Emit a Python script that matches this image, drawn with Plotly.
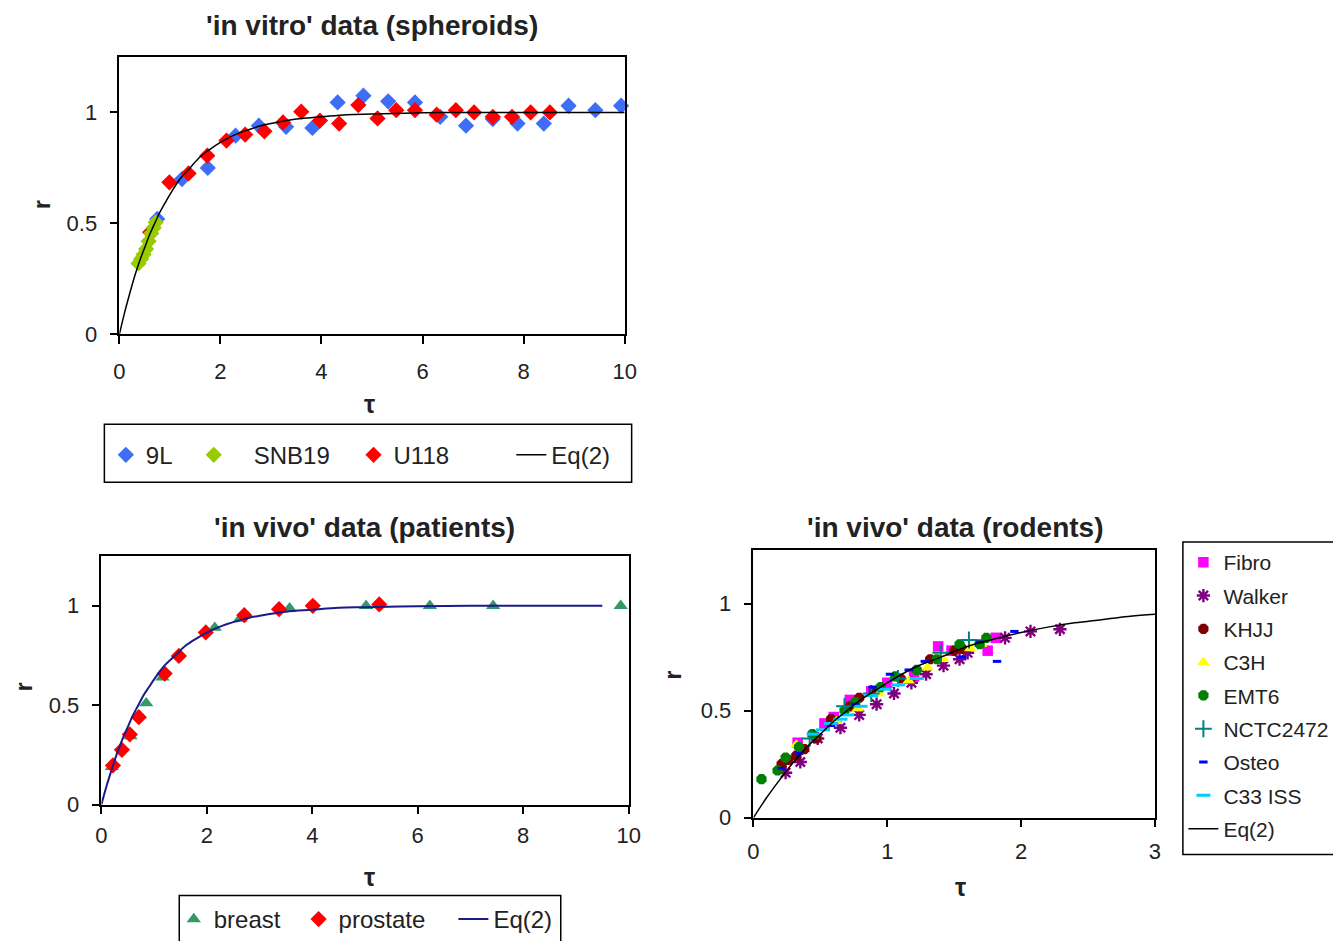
import plotly.graph_objects as go

# The page is photographed slightly larger than 1333x941 and scaled down (~0.988),
# so the figure fills that larger area and reference pixels are mapped through S / DX.
S = 0.988
DX = 4.5
W, H = 1349, 952
FONT = "Arial, Liberation Sans, sans-serif"

# ---------------- data ----------------
# Eq(2) curve
eq_tau = [0, 0.1, 0.2, 0.3, 0.4, 0.5, 0.6, 0.7, 0.8, 0.9, 1.0, 1.2, 1.4, 1.6, 1.8, 2.0,
          2.2, 2.4, 2.6, 2.8, 3.0, 3.5, 4.0, 4.5, 5.0, 6.0, 7.0, 8.0, 9.0, 9.5, 10.0]
eq_r = [0, 0.095, 0.18, 0.26, 0.33, 0.39, 0.45, 0.50, 0.55, 0.59, 0.63, 0.70, 0.75, 0.80,
        0.835, 0.865, 0.89, 0.91, 0.925, 0.94, 0.95, 0.97, 0.98, 0.99, 0.993, 0.998,
        1.0, 1.0, 1.0, 1.0, 1.0]

# in vitro (spheroids)
l9_tau = [0.75, 1.24, 1.75, 2.30, 2.76, 3.30, 3.82, 4.32, 4.83, 5.32, 5.85, 6.35, 6.86,
          7.39, 7.88, 8.40, 8.89, 9.42, 9.93]
l9_r = [0.52, 0.70, 0.75, 0.895, 0.94, 0.935, 0.93, 1.045, 1.075, 1.05, 1.045, 0.98, 0.94,
        0.97, 0.95, 0.95, 1.03, 1.01, 1.03]
snb_tau = [0.38, 0.43, 0.48, 0.53, 0.58, 0.63, 0.68, 0.72]
snb_r = [0.32, 0.34, 0.36, 0.385, 0.42, 0.455, 0.48, 0.505]
u118_tau = [0.61, 0.99, 1.37, 1.74, 2.12, 2.49, 2.87, 3.24, 3.60, 3.97, 4.35, 4.73, 5.11,
            5.48, 5.85, 6.28, 6.66, 7.02, 7.39, 7.77, 8.14, 8.52]
u118_r = [0.46, 0.685, 0.725, 0.805, 0.873, 0.90, 0.915, 0.955, 1.003, 0.963, 0.95, 1.033,
          0.973, 1.01, 1.01, 0.99, 1.01, 1.0, 0.98, 0.98, 1.0, 1.0]

# in vivo (patients)
breast_tau = [0.20, 0.55, 0.85, 1.16, 2.15, 2.63, 3.57, 5.02, 6.23, 7.43, 9.85]
breast_r = [0.19, 0.345, 0.51, 0.64, 0.89, 0.936, 0.987, 1.0, 1.0, 1.0, 1.0]
prost_tau = [0.22, 0.39, 0.54, 0.71, 1.20, 1.47, 1.98, 2.71, 3.37, 4.01, 5.27]
prost_r = [0.197, 0.276, 0.353, 0.44, 0.659, 0.748, 0.866, 0.953, 0.983, 1.0, 1.007]

# in vivo (rodents)
fibro_tau = [0.33, 0.53, 0.60, 0.72, 0.88, 1.00, 1.20, 1.38, 1.48, 1.75, 1.81]
fibro_r = [0.35, 0.44, 0.47, 0.55, 0.59, 0.63, 0.66, 0.80, 0.78, 0.78, 0.84]
walker_tau = [0.24, 0.35, 0.48, 0.65, 0.79, 0.92, 1.05, 1.18, 1.29, 1.42, 1.54, 1.60,
              1.88, 2.07, 2.29]
walker_r = [0.21, 0.26, 0.37, 0.42, 0.48, 0.53, 0.58, 0.63, 0.67, 0.71, 0.74, 0.77,
            0.84, 0.87, 0.88]
khjj_tau = [0.21, 0.26, 0.32, 0.38, 0.47, 0.58, 0.72, 0.79, 0.90, 1.10, 1.32, 1.50, 1.56]
khjj_r = [0.25, 0.27, 0.29, 0.32, 0.37, 0.46, 0.52, 0.56, 0.59, 0.65, 0.74, 0.78, 0.79]
c3h_tau = [0.32, 0.44, 0.62, 0.78, 0.94, 1.16, 1.30, 1.42, 1.62, 1.70]
c3h_r = [0.34, 0.38, 0.45, 0.51, 0.58, 0.64, 0.70, 0.74, 0.79, 0.81]
emt6_tau = [0.06, 0.18, 0.24, 0.34, 0.44, 0.68, 0.76, 0.95, 1.06, 1.22, 1.37, 1.54, 1.69, 1.74]
emt6_r = [0.18, 0.22, 0.28, 0.33, 0.39, 0.50, 0.54, 0.61, 0.66, 0.69, 0.74, 0.81, 0.81, 0.84]
nctc_tau = [0.42, 0.68, 0.88, 1.08, 1.40, 1.61]
nctc_r = [0.37, 0.52, 0.58, 0.65, 0.77, 0.83]
osteo_tau = [0.21, 0.34, 0.58, 0.76, 0.89, 1.02, 1.16, 1.28, 1.56, 1.69, 1.82, 1.95]
osteo_r = [0.23, 0.30, 0.43, 0.53, 0.61, 0.67, 0.69, 0.73, 0.75, 0.82, 0.73, 0.87]
c33_tau = [0.45, 0.52, 0.58, 0.65, 0.70, 0.80, 0.88, 0.98, 1.08, 1.22]
c33_r = [0.39, 0.41, 0.44, 0.46, 0.48, 0.52, 0.57, 0.60, 0.62, 0.65]

# ---------------- helpers (reference pixels -> paper fractions) ----------------
def px(x):
    return ((x - DX) / S) / W

def py(y):
    return 1 - (y / S) / H

fig = go.Figure()

def sc(x, y, name, xa, ya, legend, **kw):
    fig.add_trace(go.Scatter(x=x, y=y, name=name, xaxis=xa, yaxis=ya, legend=legend,
                             mode="markers", cliponaxis=False, **kw))

# plot 1 (draw order: 9L, U118, SNB19 on top)
sc(l9_tau, l9_r, "9L", "x", "y", "legend",
   marker=dict(symbol="diamond", size=12.5, color="#3D6EF5"))
sc(u118_tau, u118_r, "U118", "x", "y", "legend3",
   marker=dict(symbol="diamond", size=12.5, color="#FF0000"))
sc(snb_tau, snb_r, "&nbsp;&nbsp;&nbsp;SNB19", "x", "y", "legend2",
   marker=dict(symbol="diamond", size=12.5, color="#99CC00"))
fig.add_trace(go.Scatter(x=eq_tau, y=eq_r, name="Eq(2)", xaxis="x", yaxis="y", legend="legend4",
                         mode="lines", line=dict(color="black", width=1.5, shape="spline")))

# plot 2
sc(breast_tau, breast_r, "breast", "x2", "y2", "legend5",
   marker=dict(symbol="triangle-up", size=12.5, color="#339966"))
sc(prost_tau, prost_r, "prostate", "x2", "y2", "legend6",
   marker=dict(symbol="diamond", size=12.5, color="#FF0000"))
n95 = eq_tau.index(9.5) + 1
fig.add_trace(go.Scatter(x=eq_tau[:n95], y=eq_r[:n95], name="Eq(2)", xaxis="x2", yaxis="y2",
                         legend="legend7", mode="lines",
                         line=dict(color="#1A1A8C", width=2, shape="spline")))

# plot 3
sc(fibro_tau, fibro_r, "Fibro", "x3", "y3", "legend8",
   marker=dict(symbol="square", size=10.5, color="#FF00FF"))
sc(walker_tau, walker_r, "Walker", "x3", "y3", "legend8",
   marker=dict(symbol="asterisk-open", size=11, color="#800080", line=dict(width=2.4)))
sc(khjj_tau, khjj_r, "KHJJ", "x3", "y3", "legend8",
   marker=dict(symbol="octagon", size=11, color="#800000"))
sc(c3h_tau, c3h_r, "C3H", "x3", "y3", "legend8",
   marker=dict(symbol="triangle-up", size=11, color="#FFFF00"))
sc(emt6_tau, emt6_r, "EMT6", "x3", "y3", "legend8",
   marker=dict(symbol="octagon", size=11, color="#008000"))
sc(nctc_tau, nctc_r, "NCTC2472", "x3", "y3", "legend8",
   marker=dict(symbol="cross-thin-open", size=12, color="#008080", line=dict(width=2)))
sc(osteo_tau, osteo_r, "Osteo", "x3", "y3", "legend8",
   marker=dict(symbol="line-ew-open", size=6, color="#0000FF", line=dict(width=3)))
sc(c33_tau, c33_r, "C33 ISS", "x3", "y3", "legend8",
   marker=dict(symbol="line-ew-open", size=10, color="#00CCFF", line=dict(width=3)))
fig.add_trace(go.Scatter(x=eq_tau, y=eq_r, name="Eq(2)", xaxis="x3", yaxis="y3",
                         legend="legend8", mode="lines",
                         line=dict(color="black", width=1.5, shape="spline")))

for i, tr in enumerate(fig.data):
    tr.legendgroup = f"g{i}"
    tr.showlegend = True

# ---------------- axes ----------------
def axis_style(domain, rng, dtick, standoff):
    return dict(domain=domain, range=rng, dtick=dtick, tick0=0, showgrid=False,
                zeroline=False, showline=True, mirror=True, linecolor="black",
                linewidth=1.5, ticks="outside", ticklen=8, tickcolor="black",
                tickwidth=1.5, ticklabelstandoff=standoff,
                tickfont=dict(family=FONT, size=22, color="#222222"))

frames = {
    1: (118, 624, 57, 335, [0, 10], 2, 8),
    2: (100, 628, 557, 806, [0, 10], 2, 2),
    3: (753, 1155, 551, 819, [0, 3], 1, 5),
}
lay = {}
for i, (x0, x1, y0, y1, xr, dt, so) in frames.items():
    sfx = "" if i == 1 else str(i)
    lay["xaxis" + sfx] = axis_style([px(x0), px(x1)], xr, dt, so)
    lay["xaxis" + sfx]["anchor"] = "y" + sfx
    lay["yaxis" + sfx] = axis_style([py(y1), py(y0)], [0, 1.25], 0.5, 8)
    lay["yaxis" + sfx]["anchor"] = "x" + sfx
    lay["yaxis" + sfx]["tickvals"] = [0, 0.5, 1]
    lay["yaxis" + sfx]["ticktext"] = ["0", "0.5", "1"]

fig.update_layout(**lay)

# ---------------- annotations ----------------
ann = []
def text(x, y, s, size=20, bold=True, angle=0):
    ann.append(dict(x=px(x), y=py(y), xref="paper", yref="paper", showarrow=False,
                    text=f"<b>{s}</b>" if bold else s, textangle=angle,
                    font=dict(family=FONT, size=size, color="#222222"),
                    xanchor="center", yanchor="middle"))

text(371, 26, "'in vitro' data (spheroids)", 28)
text(363, 528, "'in vivo' data (patients)", 28)
text(955, 528, "'in vivo' data (rodents)", 28)
text(40, 205, "r", 23, angle=-90)
text(22, 688, "r", 23, angle=-90)
text(672, 676, "r", 23, angle=-90)
text(368, 405, "τ", 25)
text(368, 878, "τ", 25)
text(960, 888, "τ", 25)

# ---------------- legend boxes ----------------
shapes = [
    dict(type="rect", xref="paper", yref="paper", x0=px(103), x1=px(631), y0=py(483), y1=py(425),
         line=dict(color="black", width=1.5)),
    dict(type="rect", xref="paper", yref="paper", x0=px(178), x1=px(560), y0=py(960), y1=py(897),
         line=dict(color="black", width=1.5)),
    dict(type="rect", xref="paper", yref="paper", x0=px(1183), x1=px(1360), y0=py(856), y1=py(543),
         line=dict(color="black", width=1.5)),
]

legfont = dict(family=FONT, size=24, color="#222222")

def leg(symbol_x, yc):
    return dict(x=px(symbol_x - 20.5), y=py(yc), xanchor="left", yanchor="middle",
                orientation="h", bgcolor="rgba(0,0,0,0)", font=legfont)

fig.update_layout(
    width=W, height=H, autosize=False, showlegend=True,
    margin=dict(l=0, r=0, t=0, b=0),
    paper_bgcolor="white", plot_bgcolor="white",
    annotations=ann, shapes=shapes,
    legend=leg(125, 456),
    legend2=leg(213, 456),
    legend3=leg(373, 456),
    legend4=leg(531, 456),
    legend5=leg(193, 921),
    legend6=leg(318, 921),
    legend7=leg(473, 921),
    legend8=dict(x=px(1183.5), y=py(543), xanchor="left", yanchor="top", orientation="v",
                 bgcolor="rgba(0,0,0,0)", font=dict(family=FONT, size=21, color="#222222"),
                 tracegroupgap=3),
)

fig.write_html(
    "out.html",
    config={"displayModeBar": False},
    post_script="document.body.style.margin='0px';"
                "document.documentElement.style.overflow='hidden';"
                "document.body.style.overflow='hidden';",
)
